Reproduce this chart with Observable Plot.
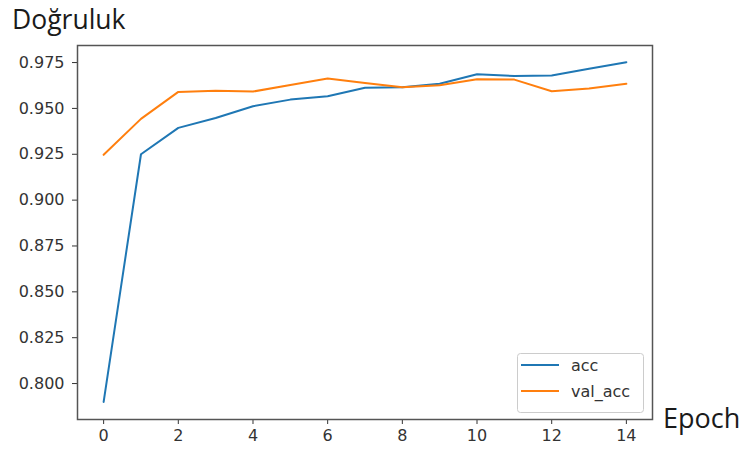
<!DOCTYPE html>
<html><head><meta charset="utf-8">
<script src="https://cdn.jsdelivr.net/npm/d3@7"></script>
<script src="https://cdn.jsdelivr.net/npm/@observablehq/plot@0.6"></script>
<style>
body{margin:0;background:#fff;}
#wrap{position:relative;width:746px;height:454px;}
#wrap > svg{position:absolute;left:0;top:0;}
</style></head><body>
<div id="wrap"></div>
<script>
const epochs = [0,1,2,3,4,5,6,7,8,9,10,11,12,13,14];
const acc    = [0.790,0.925,0.9394,0.9448,0.9512,0.9548,0.9566,0.9613,0.9615,0.9634,0.9686,0.9677,0.9680,0.9716,0.9752];
const valAcc = [0.9247,0.9443,0.9590,0.9596,0.9592,0.9628,0.9663,0.9638,0.9615,0.9626,0.9659,0.9657,0.9594,0.9608,0.9634];
const seriesNames = ["acc","val_acc"];
const colors = ["#1f77b4","#ff7f0e"];
const xTicks = [0,2,4,6,8,10,12,14];
const yTicks = [0.800,0.825,0.850,0.875,0.900,0.925,0.950,0.975];
const titleText = "Doğruluk";
const xLabelText = "Epoch";

const data = epochs.flatMap((e,i)=>[
  {epoch:e,value:acc[i],series:seriesNames[0]},
  {epoch:e,value:valAcc[i],series:seriesNames[1]}
]);

const chart = Plot.plot({
  width:746,height:454,
  marginLeft:77,marginRight:94,marginTop:45,marginBottom:35,
  x:{domain:[-0.7,14.7]},
  y:{domain:[0.7804,0.9843]},
  color:{domain:seriesNames,range:colors},
  style:{fontFamily:"DejaVu Sans",fontSize:"16px",color:"#333",background:"white"},
  marks:[
    Plot.line(data,{x:"epoch",y:"value",stroke:"series",strokeWidth:2,z:"series"}),
    Plot.axisX({ticks:xTicks,tickSize:5,tickPadding:5,label:null,tickFormat:d=>String(d),fontSize:16}),
    Plot.axisY({ticks:yTicks,tickSize:5,tickPadding:8,label:null,tickFormat:d3.format(".3f"),fontSize:16}),
    Plot.frame({stroke:"#555",strokeWidth:1.5})
  ]
});
const wrap = document.getElementById("wrap");
wrap.appendChild(chart);

// overlay: title, x label, legend
const ov = d3.select(wrap).append("svg").attr("width",746).attr("height",454).style("pointer-events","none");
ov.append("text").attr("x",12).attr("y",28.5).text(titleText)
  .attr("font-family","Open Sans").attr("font-size",26.5).attr("fill","#1a1a1a");
ov.append("text").attr("x",663).attr("y",428).text(xLabelText)
  .attr("font-family","Open Sans").attr("font-size",27).attr("fill","#1a1a1a");
const lg = ov.append("g").attr("transform","translate(517,353)");
lg.append("rect").attr("x",0.5).attr("y",0.5).attr("width",126).attr("height",59).attr("rx",3)
  .attr("fill","white").attr("fill-opacity",0.8).attr("stroke","#ccc");
seriesNames.forEach((s,i)=>{
  const y = 12 + i*26;
  lg.append("line").attr("x1",4).attr("x2",42).attr("y1",y).attr("y2",y)
    .attr("stroke",colors[i]).attr("stroke-width",2);
  lg.append("text").attr("x",54).attr("y",y).attr("dy","0.35em").text(s)
    .attr("font-family","DejaVu Sans").attr("font-size",16).attr("fill","#333");
});
</script>
</body></html>
